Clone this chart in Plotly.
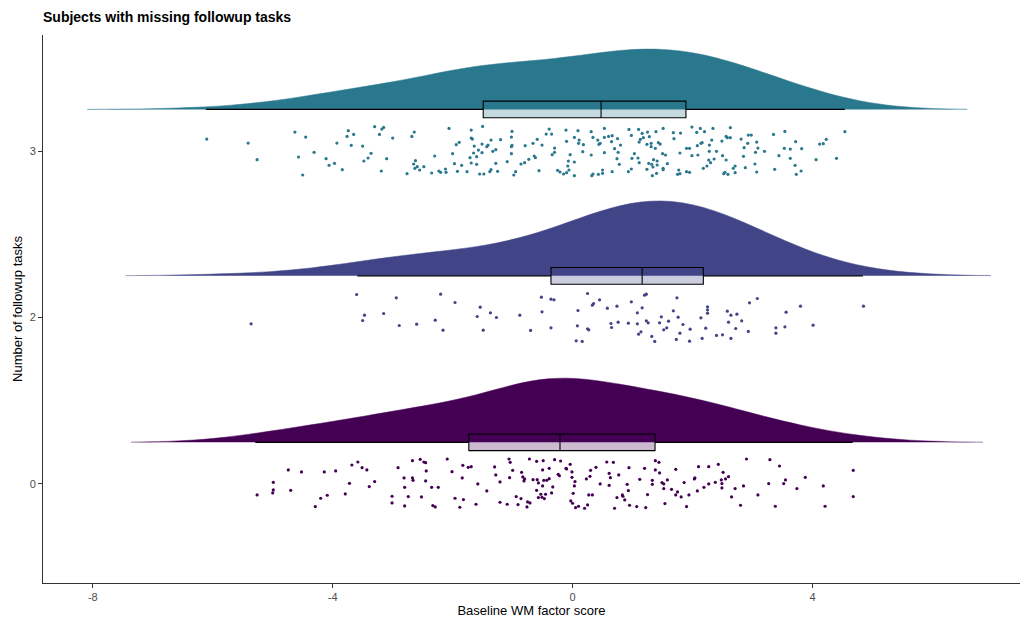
import numpy as np
import plotly.graph_objects as go

# ---------------- data ----------------
groups = ["0", "2", "3"]            # Number of followup tasks
colors = ["#440154", "#414487", "#2A788E"]

g3_x = [-6.10, -5.41, -5.26, -4.63, -4.45, -4.57, -4.50, -4.31, -4.11, -4.06,
        -3.97, -3.84, -3.93, -3.74, -3.76, -3.65, -3.69, -3.50, -3.36, -3.41,
        -3.48, -3.30, -3.18, -3.15, -3.22, -3.00, -3.10, -3.19, -2.64, -2.68,
        -2.62, -2.65, -2.59, -2.63, -2.55, -2.48, -2.76, -2.35, -2.30, -2.23,
        -2.20, -2.12, -2.11, -2.06, -2.00, -1.97, -1.94, -1.89, -1.92, -1.85,
        -1.76, -1.69, -1.69, -1.67, -1.64, -1.71, -1.69, -1.60, -1.65, -1.60,
        -1.57, -1.50, -1.51, -1.51, -1.43, -1.41, -1.36, -1.33, -1.28, -1.28,
        -1.20, -1.09, -1.01, -1.02, -1.01, -1.02, -1.02, -0.98, -0.95,
        -1.38, -1.55, -1.48, -1.25, -1.36,
        -0.79, -0.86, -0.80, -0.73, -0.64, -0.62, -0.66, -0.59, -0.51, -0.56,
        -0.44, -0.39, -0.35, -0.30, -0.30, -0.34, -0.25, -0.21, -0.15, -0.10,
        -0.06, -0.11, -0.10, -0.04, -0.07, -0.08, 0.03, 0.03, 0.09, 0.11,
        0.10, 0.18, 0.17, 0.03, 0.31, 0.34, 0.31, 0.42, 0.44, 0.46,
        0.53, 0.53, 0.53, 0.60, 0.65, 0.66, 0.70, 0.75, 0.76, 0.80,
        0.74, 0.78, 0.66, 0.50, 0.50, 0.43, 0.34, 0.32, 0.94, 0.98,
        1.03, 1.10, 1.11, 1.13, 1.16, 1.18, 1.25, 1.28, 1.24, 1.31,
        1.31, 1.38, 1.39, 1.43, 1.46, 1.51, 1.50, 1.55, 1.58, 1.41,
        1.35, 1.27, 1.32, 1.41, 1.34, 1.51, 1.51, 1.24, 1.40, 1.33,
        1.11, 1.09, 0.99, 0.93, 0.98, 1.68, 1.80, 1.69, 1.79, 1.77,
        1.75, 1.79, 1.90, 1.95, 1.90, 1.95, 1.99, 2.07, 2.13, 2.20,
        2.16, 2.14, 2.08, 2.28, 2.34, 2.32, 2.28, 2.40, 2.36, 2.27,
        2.30, 2.09, 1.99, 2.24, 2.18, 2.49, 2.50, 2.56, 2.58, 2.63,
        2.63, 2.56, 2.68, 2.71, 2.71, 2.52, 2.59, 2.54, 2.81, 2.86,
        2.93, 2.98, 2.92, 3.07, 3.09, 3.05, 2.85, 3.04, 2.88, 3.07,
        3.20, 3.35, 3.54, 3.53, 3.44, 3.37, 3.63, 3.72, 3.82, 3.63,
        3.71, 3.81, 3.73, 4.06, 4.12, 4.18, 4.23, 4.40, 4.54]
g3_jitter = [0.072, 0.048, -0.052, 0.114, 0.084, -0.036, -0.144, -0.008, -0.046, -0.086,
             -0.074, -0.112, 0.048, 0.122, 0.088, 0.100, 0.034, 0.030, -0.014, -0.042,
             -0.060, 0.146, 0.132, 0.142, 0.100, 0.078, -0.046, -0.120, 0.114, 0.088,
             -0.058, -0.078, -0.094, -0.104, -0.114, -0.094, -0.136, -0.132, -0.030, -0.120,
             -0.128, -0.108, -0.128, 0.136, -0.016, -0.076, 0.038, 0.052, -0.122, -0.086,
             -0.124, 0.126, 0.078, 0.072, 0.030, -0.040, -0.072, -0.080, -0.012, -0.034,
             0.006, 0.148, 0.042, -0.010, 0.026, 0.036, 0.066, -0.002, 0.008, -0.074,
             0.068, -0.064, 0.118, 0.084, 0.034, 0.026, -0.016, -0.144, -0.124,
             -0.124, -0.138, -0.138, -0.122, -0.112,
             0.032, -0.078, -0.070, -0.050, -0.030, -0.040, 0.046, 0.070, 0.036, -0.118,
             0.102, 0.132, 0.102, 0.018, -0.008, -0.022, -0.116, -0.126, -0.138, -0.130,
             -0.114, 0.126, 0.058, -0.022, -0.060, -0.090, -0.066, 0.082, 0.122, 0.066,
             0.046, 0.038, -0.004, -0.148, 0.116, 0.082, -0.024, 0.066, 0.040, 0.046,
             0.136, 0.082, -0.010, 0.088, 0.056, 0.092, 0.014, 0.074, -0.008, 0.036,
             -0.046, -0.080, -0.124, -0.114, -0.134, -0.140, -0.138, -0.148, 0.130, 0.094,
             -0.016, 0.130, 0.054, 0.070, 0.106, 0.080, 0.114, 0.086, 0.040, 0.026,
             0.046, 0.016, 0.116, 0.050, 0.042, 0.136, -0.016, -0.024, -0.076, -0.060,
             -0.052, -0.074, -0.080, -0.084, -0.096, -0.104, -0.112, -0.110, -0.134, -0.148,
             -0.070, -0.042, -0.044, -0.124, -0.108, 0.110, 0.108, 0.074, -0.012, -0.114,
             -0.140, -0.136, -0.124, -0.128, 0.016, 0.016, 0.144, 0.112, 0.136, 0.116,
             0.050, 0.046, 0.032, 0.036, 0.136, 0.066, -0.002, -0.002, -0.048, -0.054,
             -0.070, -0.024, -0.028, -0.090, -0.104, 0.060, -0.028, 0.088, 0.080, 0.140,
             0.080, -0.054, -0.104, -0.090, -0.130, -0.136, -0.140, -0.128, 0.072, 0.020,
             0.096, 0.096, 0.046, 0.054, 0.018, -0.008, -0.032, -0.078, -0.100, -0.126,
             -0.002, 0.100, 0.118, 0.016, -0.028, -0.110, 0.012, 0.056, 0.014, -0.044,
             -0.086, -0.120, -0.140, -0.052, 0.042, 0.044, 0.070, -0.044, 0.116]

g2_x = [-5.36, -3.60, -3.47, -3.50, -3.15, -2.94, -2.89, -2.60, -2.29, -2.20,
        -2.16, -1.96, -1.59, -1.54, -1.49, -1.37, -1.27, -0.88, -0.70, -0.52,
        -0.51, -0.36, -0.31, -0.36,
        0.25, 0.09, 0.33, 0.35, 0.45, 0.08, 0.25, 0.27, 0.06, 0.16,
        0.58, 0.74, 0.64, 0.65, 0.76, 0.93, 0.98, 1.08, 1.16, 1.20,
        1.23, 1.08, 1.23, 1.26, 1.14, 1.10, 1.32, 1.37, 1.45, 1.48,
        1.60, 1.57, 1.52, 1.68, 1.74, 1.76, 1.84, 1.79, 1.73, 1.96,
        1.95, 2.14, 2.25, 2.25, 2.25, 2.22, 2.16, 2.40, 2.50, 2.58,
        2.64, 2.74, 2.60, 2.82, 2.72, 2.64, 2.95, 3.08, 2.93, 3.39,
        3.39, 3.54, 3.56, 3.80, 4.01, 4.85]
g2_jitter = [-0.038, 0.138, 0.014, -0.018, 0.024, 0.118, -0.048, -0.040, -0.016, 0.140,
             -0.076, 0.090, 0.006, 0.062, -0.076, 0.028, 0.000, 0.014, -0.078, 0.122,
             0.034, 0.110, 0.106, -0.062,
             0.144, 0.042, 0.074, 0.084, 0.106, -0.050, -0.068, -0.074, -0.140, -0.144,
             0.056, 0.068, -0.036, -0.060, -0.028, -0.034, 0.094, 0.028, 0.058, 0.134,
             0.140, -0.038, -0.020, -0.032, -0.086, -0.100, -0.114, -0.144, -0.032, 0.004,
             -0.022, -0.062, -0.074, 0.040, 0.118, 0.002, -0.042, -0.094, -0.132, -0.070,
             -0.142, -0.002, 0.064, 0.046, 0.026, -0.064, -0.126, -0.108, -0.104, 0.038,
             0.014, 0.020, -0.028, -0.020, -0.066, -0.126, 0.088, 0.114, -0.084, -0.062,
             -0.094, -0.056, 0.032, 0.068, -0.046, 0.068]

g0_x = [-5.26, -4.99, -4.99, -5.00, -4.74, -4.70, -4.52, -4.29, -4.20, -4.09,
        -4.14, -3.95, -3.79, -3.72, -3.68, -3.58, -3.51, -3.43, -3.30, -3.39,
        -3.01, -3.01, -2.91, -2.81, -2.80, -2.80, -2.74, -2.67, -2.67, -2.66,
        -2.54, -2.48, -2.45, -2.44, -2.45, -2.52, -2.35, -2.24, -2.33, -2.29,
        -2.09, -2.01, -1.84, -1.83, -1.74, -1.69, -1.96, -1.82, -1.88, -1.61,
        -1.58, -1.43, -1.30, -1.28, -1.21, -1.21, -1.09, -1.06, -1.04, -1.00,
        -1.05, -0.94, -0.86, -0.91, -0.85, -0.83, -0.80, -0.81, -0.72, -0.75,
        -0.71, -0.76, -0.66, -0.59, -0.57, -0.60, -0.49, -0.50, -0.39, -0.48,
        -0.43, -0.39, -0.60, -0.50, -0.33, -0.53, -0.57, -0.51, -0.45, -0.35,
        -0.47, -0.30,
        -0.20, -0.11, -0.10, -0.04, -0.01, -0.01, -0.24, -0.22, 0.04, 0.03,
        0.01, -0.03, 0.00, 0.05, 0.10, 0.20, 0.25, 0.27, 0.33, 0.23,
        0.29, 0.30, 0.39, 0.46, 0.57, 0.68, 0.61, 0.63, 0.61, 0.77,
        0.74, 0.83, 0.84, 0.87, 0.70, 0.91, 0.94, 0.93, 0.95, 1.07,
        1.12, 1.20, 1.22, 1.25, 1.33, 1.33, 1.38, 1.44, 1.38, 1.45,
        1.49, 1.52, 1.58, 1.52, 1.54, 1.65, 1.72, 1.72, 1.75, 1.81,
        1.86, 1.90, 1.94, 2.03, 2.04, 2.08, 2.10, 2.19, 2.27, 2.27,
        2.38, 2.43, 2.48, 2.49, 2.49, 2.51, 2.55, 2.60, 2.65, 2.71,
        2.80, 2.85, 2.90, 3.09, 3.27, 3.29, 3.38, 3.45, 3.52, 3.55,
        3.74, 3.88, 4.18, 4.21, 4.68, 4.68]
g0_jitter = [-0.066, 0.010, -0.036, -0.054, 0.084, -0.038, 0.072, -0.136, -0.086, -0.068,
             0.072, 0.078, -0.060, 0.004, 0.114, 0.132, 0.098, 0.084, 0.014, -0.016,
             -0.074, -0.114, 0.098, 0.036, -0.020, -0.132, -0.076, 0.140, 0.036, 0.022,
             0.148, 0.132, 0.128, 0.078, 0.018, -0.078, -0.020, -0.020, -0.130, -0.138,
             0.150, 0.074, 0.036, 0.112, 0.100, 0.104, -0.086, -0.094, -0.140, -0.122,
             0.000, -0.042, 0.102, 0.054, 0.012, -0.110, -0.122, 0.150, 0.130, 0.082,
             0.038, -0.076, -0.088, -0.124, 0.070, 0.042, 0.030, 0.018, 0.150, -0.108,
             -0.114, -0.138, 0.026, 0.026, 0.006, 0.136, 0.140, 0.084, 0.094, 0.022,
             0.022, 0.032, -0.038, -0.012, -0.018, -0.062, -0.082, -0.080, -0.062, -0.054,
             -0.088, 0.146,
             0.138, 0.094, 0.090, 0.118, 0.072, 0.040, 0.058, 0.050, 0.014, -0.012,
             -0.056, -0.102, -0.116, -0.142, -0.134, -0.146, -0.126, -0.066, -0.066, 0.030,
             0.046, 0.082, 0.100, 0.000, 0.132, 0.130, 0.064, 0.038, -0.008, 0.054,
             -0.082, -0.066, -0.074, -0.096, -0.146, -0.002, 0.098, -0.040, -0.128, -0.136,
             0.028, 0.094, -0.142, -0.064, 0.022, -0.002, 0.140, 0.130, 0.084, 0.066,
             0.008, 0.000, 0.024, -0.028, -0.118, -0.032, 0.088, -0.066, -0.048, -0.078,
             0.008, -0.136, -0.066, 0.030, 0.036, -0.042, 0.104, -0.020, 0.104, 0.000,
             0.010, 0.118, 0.024, 0.002, -0.024, 0.070, 0.030, 0.044, -0.078, -0.028,
             -0.128, -0.012, 0.150, -0.066, 0.002, 0.146, -0.134, 0.108, 0.002, 0.024,
             -0.028, 0.040, -0.012, -0.134, 0.082, -0.076]

# box-plot statistics (order: groups 0, 2, 3)
box_q1 = [-1.73, -0.36, -1.49]
box_median = [-0.21, 1.16, 0.475]
box_q3 = [1.375, 2.18, 1.89]
box_lower = [-5.29, -3.59, -6.11]
box_upper = [4.67, 4.84, 4.54]
# density smoothing and the violin ends
bandwidths = [0.92, 1.05, 0.9]
violin_lo = [-7.36, -7.45, -8.09]
violin_hi = [6.84, 6.97, 6.58]

xs = [g0_x, g2_x, g3_x]
js = [g0_jitter, g2_jitter, g3_jitter]

# ---------------- figure ----------------
NUDGE = 0.25
MAX_WIDTH = 0.9


def rgba(hexc, a):
    h = hexc.lstrip("#")
    return "rgba(%d,%d,%d,%.2f)" % (int(h[0:2], 16), int(h[2:4], 16), int(h[4:6], 16), a)


def kde_peak(vals, bw):
    v = np.asarray(vals)
    grid = np.linspace(v.min() - 3 * bw, v.max() + 3 * bw, 800)
    dens = np.exp(-0.5 * ((grid[:, None] - v[None, :]) / bw) ** 2).sum(1) / (len(v) * bw * np.sqrt(2 * np.pi))
    return dens.max()


# equal-area scaling of the half violins (like ggplot's scale = "area")
peaks = [kde_peak(xs[i], bandwidths[i]) for i in range(3)]
widths = [MAX_WIDTH * p / max(peaks) for p in peaks]

fig = go.Figure()
for i, g in enumerate(groups):
    pos = i + 1
    fig.add_trace(go.Violin(
        x=np.array(xs[i]), y0=pos + NUDGE, orientation="h", side="positive",
        width=widths[i], scalemode="width",
        bandwidth=bandwidths[i], spanmode="manual",
        span=[violin_lo[i], violin_hi[i]],
        fillcolor=colors[i], line=dict(color=colors[i], width=0.5),
        points=False, box_visible=False, meanline_visible=False,
        hoverinfo="skip", showlegend=False, name=g,
    ))

for i, g in enumerate(groups):
    pos = i + 1
    fig.add_trace(go.Scatter(
        x=xs[i], y=[pos + j for j in js[i]], mode="markers",
        marker=dict(size=3.2, color=colors[i], line=dict(width=0)),
        showlegend=False, hoverinfo="skip",
    ))

for i, g in enumerate(groups):
    pos = i + 1
    fig.add_trace(go.Box(
        y=[pos + NUDGE], orientation="h",
        q1=[box_q1[i]], median=[box_median[i]], q3=[box_q3[i]],
        lowerfence=[box_lower[i]], upperfence=[box_upper[i]],
        width=0.1, whiskerwidth=0, boxpoints=False,
        fillcolor=rgba(colors[i], 0.27), line=dict(color="black", width=1.1),
        showlegend=False, hoverinfo="skip",
    ))

axis_font = dict(family="Liberation Sans, Arial, sans-serif", size=11, color="#4D4D4D")
fig.update_layout(
    width=1023, height=621,
    margin=dict(l=43, r=3, t=35, b=38),
    paper_bgcolor="white", plot_bgcolor="white",
    font=dict(family="Liberation Sans, Arial, sans-serif", color="black"),
    violinmode="overlay", boxmode="overlay",
    title=dict(text="<b>Subjects with missing followup tasks</b>",
               x=43 / 1023, xref="container", xanchor="left",
               y=1 - 17 / 621, yref="container", yanchor="middle",
               font=dict(size=14, color="black")),
    xaxis=dict(range=[-8.83, 7.46], tickvals=[-8, -4, 0, 4], ticktext=["-8", "-4", "0", "4"],
               ticks="outside", ticklen=4, tickcolor="#333333", tickfont=axis_font,
               showline=True, linecolor="#333333", linewidth=1, mirror=False,
               showgrid=False, zeroline=False, automargin=False,
               title=dict(text="Baseline WM factor score", font=dict(size=13, color="black"),
                          standoff=3)),
    yaxis=dict(range=[0.405, 3.697], tickvals=[1, 2, 3], ticktext=groups,
               ticks="outside", ticklen=4, tickcolor="#333333", tickfont=axis_font,
               showline=True, linecolor="#333333", linewidth=1,
               showgrid=False, zeroline=False, automargin=False,
               title=dict(text="Number of followup tasks", font=dict(size=13, color="black"),
                          standoff=4)),
)

fig.write_html("out.html")
